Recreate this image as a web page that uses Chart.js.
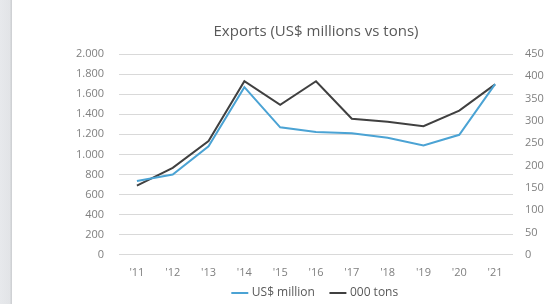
<!DOCTYPE html>
<html>
<head>
<meta charset="utf-8">
<script src="https://cdn.jsdelivr.net/npm/chart.js@4"></script>
<style>
  html, body { margin: 0; padding: 0; }
  body {
    width: 554px; height: 304px; overflow: hidden;
    background: linear-gradient(to right, #e7e9ec 0, #e2e4e7 10px, #cfd1d4 11px, #cfd1d4 12px, #ffffff 12px);
  }
  #wrap { position: absolute; left: 0; top: 0; width: 554px; height: 304px; }
</style>
</head>
<body>
<div id="wrap"><canvas id="myChart" width="554" height="304"></canvas></div>
<script>
    // adatok
    const years = ["'11", "'12", "'13", "'14", "'15", "'16", "'17", "'18", "'19", "'20", "'21"];
    const usdMillion = [735, 800, 1080, 1670, 1270, 1222, 1210, 1165, 1090, 1195, 1700];
    const thousandTons = [155, 195, 255, 389, 336, 389, 305, 298, 288, 323, 382];

    const fontName = "'Open Sans', 'Noto Sans', sans-serif";

    // ezres elválasztó ponttal (2.000)
    function dotFormat(v) {
        return v.toString().replace(/\B(?=(\d{3})+(?!\d))/g, '.');
    }

    const ctx = document.getElementById('myChart').getContext('2d');
    new Chart(ctx, {
        type: 'line',
        data: {
            labels: years,
            datasets: [
                {
                    label: 'US$ million',
                    data: usdMillion,
                    borderColor: '#4ba3d4',
                    backgroundColor: '#4ba3d4',
                    borderWidth: 2,
                    pointRadius: 0,
                    fill: false,
                    yAxisID: 'y'
                },
                {
                    label: '000 tons',
                    data: thousandTons,
                    borderColor: '#404040',
                    backgroundColor: '#404040',
                    borderWidth: 2,
                    pointRadius: 0,
                    fill: false,
                    yAxisID: 'y2'
                }
            ]
        },
        options: {
            responsive: false,
            animation: false,
            layout: { padding: { top: 0, bottom: -5, left: 0, right: 0 } },
            plugins: {
                title: {
                    display: true,
                    fullSize: false,
                    text: 'Exports (US$ millions vs tons)',
                    color: '#595959',
                    font: { family: fontName, size: 15, weight: 'normal' },
                    padding: { top: 23, bottom: 13 }
                },
                legend: {
                    position: 'bottom',
                    fullSize: false,
                    labels: {
                        usePointStyle: true,
                        pointStyle: 'line',
                        boxWidth: 18,
                        color: '#595959',
                        font: { family: fontName, size: 12 },
                        padding: 5,
                        // nagyobb hézag a két elem között
                        generateLabels: chart => {
                            const items = Chart.defaults.plugins.legend.labels.generateLabels(chart);
                            items[0].text += '\u2002\u2002';
                            return items;
                        }
                    }
                },
                tooltip: { enabled: false }
            },
            scales: {
                x: {
                    offset: true,
                    grid: { display: false },
                    border: { display: false },
                    ticks: { color: '#7f7f7f', font: { family: fontName, size: 11 }, padding: 3 }
                },
                y: {
                    position: 'left',
                    min: 0,
                    max: 2000,
                    afterFit: s => { s.width = 119; },
                    grid: { color: '#d9d9d9', drawTicks: false, lineWidth: 1 },
                    border: { display: false },
                    ticks: {
                        stepSize: 200,
                        color: '#7f7f7f',
                        font: { family: fontName, size: 11 },
                        padding: 15,
                        callback: v => dotFormat(v)
                    }
                },
                y2: {
                    position: 'right',
                    min: 0,
                    max: 450,
                    afterFit: s => { s.width = 41; },
                    grid: { display: false, drawTicks: false },
                    border: { display: false },
                    ticks: {
                        stepSize: 50,
                        color: '#7f7f7f',
                        font: { family: fontName, size: 11 },
                        padding: 12
                    }
                }
            }
        }
    });
</script>
</body>
</html>
